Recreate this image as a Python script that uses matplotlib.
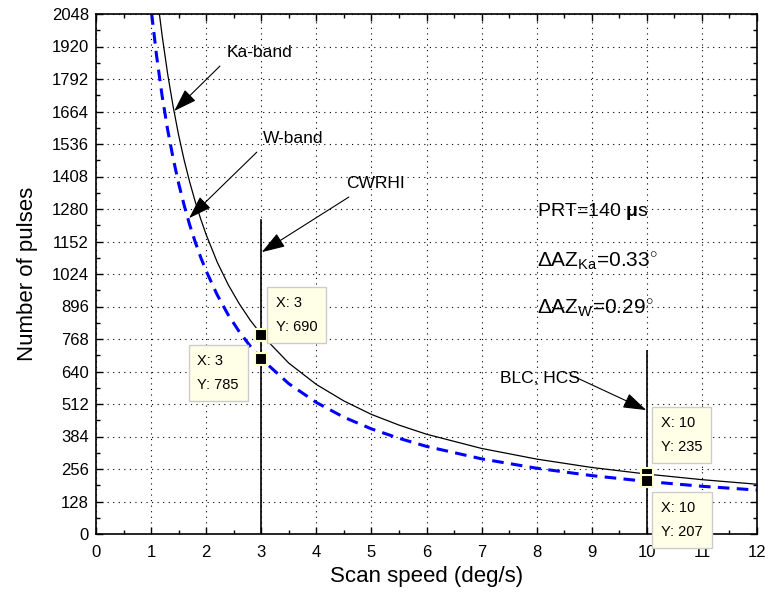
import matplotlib
matplotlib.use("Agg")
import matplotlib.pyplot as plt
from matplotlib.ticker import MultipleLocator

plt.rcParams['font.family'] = ['Liberation Sans', 'DejaVu Sans']
plt.rcParams['mathtext.fontset'] = 'custom'
plt.rcParams['mathtext.rm'] = 'Liberation Sans'
plt.rcParams['mathtext.it'] = 'Liberation Sans:italic'
plt.rcParams['mathtext.bf'] = 'Liberation Sans:bold'

# Data
ka_speed = [1.15, 1.2, 1.3, 1.4, 1.5, 1.6, 1.7, 1.8, 1.9, 2.0, 2.2, 2.4, 2.6, 2.8,
            3.0, 3.5, 4.0, 4.5, 5.0, 5.5, 6, 7, 8, 9, 10, 11, 12]
ka_pulses = [2050, 1964, 1813, 1684, 1571, 1473, 1387, 1310, 1241, 1179, 1071, 982,
             907, 842, 786, 673, 589, 524, 471, 429, 393, 337, 295, 262, 236, 214, 196]
w_speed = [1.01, 1.1, 1.2, 1.3, 1.4, 1.5, 1.6, 1.7, 1.8, 1.9, 2.0, 2.2, 2.4, 2.6, 2.8,
           3.0, 3.5, 4.0, 4.5, 5.0, 5.5, 6, 7, 8, 9, 10, 11, 12]
w_pulses = [2051, 1883, 1726, 1593, 1480, 1381, 1295, 1218, 1151, 1090, 1036, 942, 863,
            797, 740, 690, 592, 518, 460, 414, 377, 345, 296, 259, 230, 207, 188, 173]

cwrhi_x = [3, 3]
cwrhi_y = [0, 1237]
blc_x = [10, 10]
blc_y = [0, 721]

tip_x = [3, 3, 10, 10]
tip_y = [785, 690, 235, 207]
tip_labels = ["X: 3\nY: 690", "X: 3\nY: 785", "X: 10\nY: 235", "X: 10\nY: 207"]
tip_text_pos = [(3.27, 862), (1.84, 634), (10.26, 390), (10.26, 55)]

notes = ["Ka-band", "W-band", "CWRHI", "BLC, HCS"]
note_text_xy = [(2.96, 1898), (3.58, 1559), (5.07, 1382), (8.06, 614)]
note_tail_xy = [(2.25, 1843), (2.92, 1504), (4.59, 1327), (8.70, 618)]
note_tip_xy = [(1.42, 1666), (1.69, 1244), (3.01, 1110), (9.99, 488)]

fig = plt.figure(figsize=(7.69, 6.01), dpi=100)
ax = fig.add_axes([96/769, 67/601, 661/769, 520/601])

ax.plot(ka_speed, ka_pulses, color='black', lw=0.9)
ax.plot(w_speed, w_pulses, color='#0000FF', lw=2.2, dashes=(3.8, 2.4))
ax.plot(cwrhi_x, cwrhi_y, color='black', lw=1.2)
ax.plot(blc_x, blc_y, color='black', lw=1.2)
ax.plot(tip_x, tip_y, linestyle='none', marker='s', markersize=8,
        markerfacecolor='black', markeredgecolor='#FFFFCC', markeredgewidth=1.5, zorder=5)

for (tx, ty), lab in zip(tip_text_pos, tip_labels):
    ax.text(tx, ty, lab, fontsize=10.5, ha='left', va='center', linespacing=1.9,
            zorder=6, clip_on=False,
            bbox=dict(boxstyle='square,pad=0.6', facecolor='#FFFFE8', edgecolor='#CCCCCC', lw=1))

for lab, txy, tail, tip in zip(notes, note_text_xy, note_tail_xy, note_tip_xy):
    ax.text(txy[0], txy[1], lab, fontsize=12.5, ha='center', va='center')
    ax.annotate('', xy=tip, xytext=tail,
                arrowprops=dict(arrowstyle='-|>,head_length=0.9,head_width=0.3',
                                color='black', lw=0.8, mutation_scale=16,
                                shrinkA=0, shrinkB=0))

ax.set_xlim(0, 12)
ax.set_ylim(0, 2048)
ax.xaxis.set_major_locator(MultipleLocator(1))
ax.xaxis.set_minor_locator(MultipleLocator(0.5))
ax.yaxis.set_major_locator(MultipleLocator(128))
ax.yaxis.set_minor_locator(MultipleLocator(64))
ax.tick_params(which='both', direction='in', top=True, right=True, labelsize=12)
ax.tick_params(axis='x', which='major', pad=8)
ax.tick_params(axis='y', which='major', pad=5)
ax.tick_params(which='major', length=5, width=1)
ax.tick_params(which='minor', length=3, width=1)
ax.grid(True, which='major', color='black', linestyle=(0, (1, 4)), lw=0.8)
for s in ax.spines.values():
    s.set_linewidth(1.2)

ax.set_xlabel('Scan speed (deg/s)', fontsize=16, labelpad=4)
ax.set_ylabel('Number of pulses', fontsize=16, labelpad=10)

ax.text(8.0, 1272, r'PRT=140 $\mathbf{\mu}$s', fontsize=14, ha='left', va='center')
ax.text(8.0, 1071, r'$\Delta$AZ$_{\rm Ka}$=0.33$^{\circ}$', fontsize=15, ha='left', va='center')
ax.text(8.0, 886, r'$\Delta$AZ$_{\rm W}$=0.29$^{\circ}$', fontsize=15, ha='left', va='center')

fig.savefig('out.png', dpi=100)
